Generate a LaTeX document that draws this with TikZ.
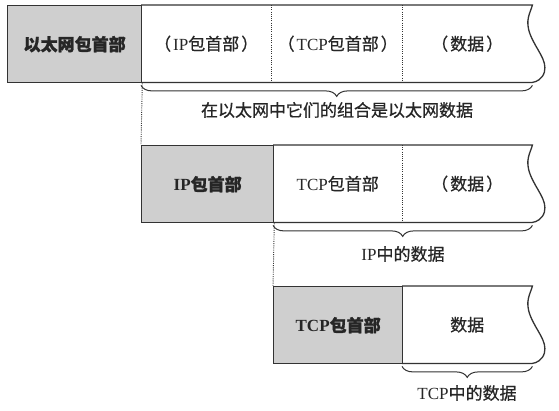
\documentclass[tikz,border=0pt]{standalone}
\usepackage{fontspec}
\setmainfont{Liberation Serif}
\newfontfamily\cjk[FakeBold=0.8]{Noto Sans CJK SC}
\newfontfamily\cjkb[FakeBold=1.2]{Noto Sans CJK SC}
\usetikzlibrary{decorations.pathreplacing}
\definecolor{linec}{HTML}{333333}
\definecolor{txtc}{HTML}{262626}
\newcommand\wavepath[1]{(#1.north east) .. controls ([shift={(-2,8)}]#1.north east) and ([shift={(-8,15)}]#1.north east) .. ([shift={(-2,30)}]#1.north east) .. controls ([shift={(4,45)}]#1.north east) and ([shift={(15,55)}]#1.north east) .. ([shift={(12,67)}]#1.north east) .. controls ([shift={(10,74)}]#1.north east) and ([shift={(4,77)}]#1.north east) .. (#1.south east)}
\newcommand\lp{{\cjk （}\kern2pt}
\newcommand\rp{\kern2pt{\cjk ）}}
\tikzset{
  cell/.style={minimum height=77pt, inner sep=0pt, anchor=north west, text=txtc, font=\fontsize{17}{20}\selectfont},
  hdr/.style={cell, fill=gray!38, draw=linec, line width=1.3pt, font=\fontsize{17}{20}\selectfont\bfseries},
  edge/.style={draw=linec, line width=1.3pt},
  dots/.style={draw=linec, line width=0.9pt, dash pattern=on 1pt off 1.2pt},
  brc/.style={draw=linec, line width=1pt, decorate, decoration={brace, mirror, amplitude=11pt}},
  lbl/.style={text=txtc, font=\fontsize{17}{20}\selectfont, inner sep=0pt}
}
\begin{document}
\begin{tikzpicture}[x=1pt,y=-1pt]
\useasboundingbox (0,0) rectangle (559,410);
% row 1
\node[cell, minimum width=130pt] (e2) at (141,5) {\lp IP{\cjk 包首部}\rp};
\node[cell, minimum width=129pt] (e3) at (273,5) {\lp TCP{\cjk 包首部}\rp};
\node[cell, minimum width=130pt] (e4) at (402,5) {\lp{\cjk 数据}\rp};
\draw[edge] (e2.north west) -- \wavepath{e4} -- (e2.south west);
\draw[dots] (e2.north east) -- (e2.south east);
\draw[dots] (e3.north east) -- (e3.south east);
\node[hdr, minimum width=134pt] (e1) at (7,5) {{\cjkb 以太网包首部}};
% row 2
\node[cell, minimum width=129pt] (i2) at (273,145) {TCP{\cjk 包首部}};
\node[cell, minimum width=130pt] (i3) at (402,145) {\lp{\cjk 数据}\rp};
\draw[edge] (i2.north west) -- \wavepath{i3} -- (i2.south west);
\draw[dots] (i2.north east) -- (i2.south east);
\node[hdr, minimum width=132pt] (i1) at (141,145) {IP{\cjkb 包首部}};
% row 3
\node[cell, minimum width=130pt] (t2) at (402,286) {{\cjk 数据}};
\draw[edge] (t2.north west) -- \wavepath{t2} -- (t2.south west);
\node[hdr, minimum width=129pt] (t1) at (273,286) {TCP{\cjkb 包首部}};
% dotted links
\draw[dots] (e1.south east) -- (i1.north west);
\draw[dots] (i1.south east) -- (t1.north west);
% braces
\draw[brc] ([yshift=-3pt]e2.south west) -- ([yshift=-3pt]e4.south east);
\draw[brc] ([yshift=-3pt]i2.south west) -- ([yshift=-3pt]i3.south east);
\draw[brc] ([yshift=-3pt]t2.south west) -- ([yshift=-3pt]t2.south east);
\node[lbl] (l1) at (337,110) {{\cjk 在以太网中它们的组合是以太网数据}};
\node[lbl] (l2) at (403,254) {IP{\cjk 中的数据}};
\node[lbl] (l3) at (467,393) {TCP{\cjk 中的数据}};
\end{tikzpicture}
\end{document}
